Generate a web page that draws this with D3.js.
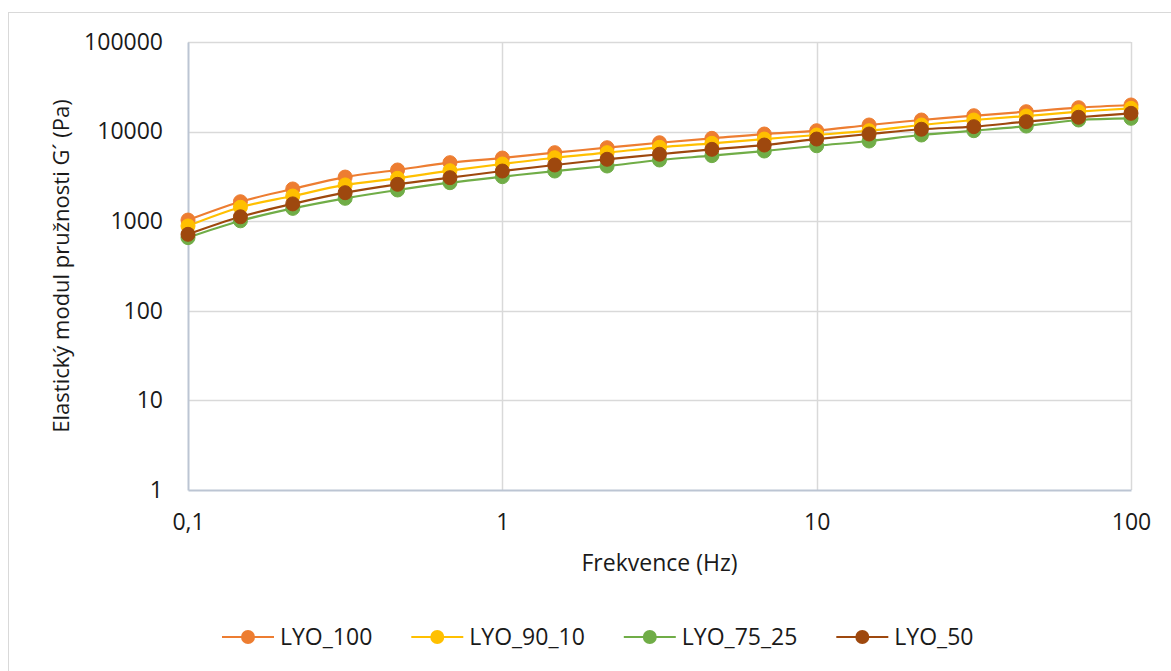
<!DOCTYPE html>
<html lang="cs">
<head>
<meta charset="utf-8">
<title>Elastický modul</title>
<script src="https://cdn.jsdelivr.net/npm/d3@7"></script>
<style>
body{ margin:0; background:#fff; }
svg{ display:block; font-family:"Open Sans", sans-serif; }
</style>
</head>
<body>
<script>
// frekvence (Hz)
var freq = [0.1, 0.1468, 0.2154, 0.3162, 0.4642, 0.6813, 1, 1.468, 2.154, 3.162, 4.642, 6.813, 10, 14.68, 21.54, 31.62, 46.42, 68.13, 100];

var seriesNames = ["LYO_100", "LYO_90_10", "LYO_75_25", "LYO_50"];
var seriesColors = ["#ED7D31", "#FFC000", "#70AD47", "#9E480E"];

// G' (Pa)
var lyo100 = [1030, 1650, 2290, 3110, 3730, 4500, 5070, 5820, 6610, 7510, 8410, 9400, 10230, 11850, 13470, 15040, 16680, 18490, 19820];
var lyo90_10 = [884, 1430, 1910, 2540, 3010, 3660, 4350, 5110, 5820, 6680, 7400, 8260, 9160, 10230, 11850, 13470, 14930, 16680, 18200];
var lyo75_25 = [655, 1010, 1390, 1800, 2230, 2690, 3140, 3630, 4130, 4820, 5390, 6070, 6950, 7850, 9160, 10230, 11530, 13470, 14070];
var lyo50 = [714, 1120, 1560, 2080, 2580, 3060, 3630, 4240, 4910, 5590, 6340, 7080, 8260, 9400, 10620, 11350, 12910, 14450, 16000];

var xTicks = [0.1, 1, 10, 100];
var xTickLabels = ["0,1", "1", "10", "100"];
var yTicks = [1, 10, 100, 1000, 10000, 100000];

var W = 1171, H = 671;
var pLeft = 188, pRight = 1131, pTop = 42, pBottom = 490;

var svg = d3.select("body").append("svg")
    .attr("width", W)
    .attr("height", H);

// chart border
svg.append("rect")
    .attr("x", 8.5).attr("y", 12.5)
    .attr("width", 1175).attr("height", 675)
    .attr("fill", "#fff")
    .attr("stroke", "#D9D9D9");

var x = d3.scaleLog().domain([0.1, 100]).range([pLeft, pRight]);
var y = d3.scaleLog().domain([1, 100000]).range([pBottom, pTop]);

// gridlines
svg.append("g").selectAll("line")
    .data(yTicks.slice(1))
    .enter().append("line")
    .attr("x1", pLeft).attr("x2", pRight)
    .attr("y1", function(d){ return Math.round(y(d)) + 0.5; })
    .attr("y2", function(d){ return Math.round(y(d)) + 0.5; })
    .attr("stroke", "#D9D9D9").attr("stroke-width", 1.5);

svg.append("g").selectAll("line")
    .data(xTicks.slice(1))
    .enter().append("line")
    .attr("y1", pTop).attr("y2", pBottom)
    .attr("x1", function(d){ return Math.round(x(d)) + 0.5; })
    .attr("x2", function(d){ return Math.round(x(d)) + 0.5; })
    .attr("stroke", "#D9D9D9").attr("stroke-width", 1.5);

// axes
var xAxis = svg.append("g")
    .attr("transform", "translate(0," + pBottom + ")")
    .call(d3.axisBottom(x).tickValues(xTicks).tickSize(0).tickPadding(24)
        .tickFormat(function(d, i){ return xTickLabels[i]; }));
var yAxis = svg.append("g")
    .attr("transform", "translate(" + pLeft + ",0)")
    .call(d3.axisLeft(y).tickValues(yTicks).tickSize(0).tickPadding(25)
        .tickFormat(d3.format("d")));

[xAxis, yAxis].forEach(function(a){
    a.select(".domain").attr("stroke", "#BCC5D3").attr("stroke-width", 2);
    a.selectAll("text")
        .attr("font-family", "Open Sans, sans-serif")
        .attr("font-size", 23)
        .attr("fill", "#1a1a1a");
});

// axis titles
svg.append("text")
    .attr("x", (pLeft + pRight) / 2)
    .attr("y", 571)
    .attr("text-anchor", "middle")
    .attr("font-size", 23)
    .attr("fill", "#1a1a1a")
    .text("Frekvence (Hz)");

svg.append("text")
    .attr("transform", "translate(69," + ((pTop + pBottom) / 2) + ") rotate(-90)")
    .attr("text-anchor", "middle")
    .attr("font-size", 22)
    .attr("fill", "#1a1a1a")
    .text("Elastický modul pružnosti G´ (Pa)");

// series
var allValues = [lyo100, lyo90_10, lyo75_25, lyo50];
var line = d3.line()
    .x(function(d, i){ return x(freq[i]); })
    .y(function(d){ return y(d); })
    .curve(d3.curveCatmullRom.alpha(0.5));

allValues.forEach(function(vals, s){
    svg.append("path")
        .datum(vals)
        .attr("d", line)
        .attr("fill", "none")
        .attr("stroke", seriesColors[s])
        .attr("stroke-width", 2.2);
});

allValues.forEach(function(vals, s){
    svg.append("g").selectAll("circle")
        .data(vals)
        .enter().append("circle")
        .attr("cx", function(d, i){ return x(freq[i]); })
        .attr("cy", function(d){ return y(d); })
        .attr("r", 7)
        .attr("fill", seriesColors[s])
        .attr("stroke", seriesColors[s])
        .attr("stroke-width", 1);
});

// legend
var legend = svg.append("g").attr("transform", "translate(222,637)");
var lx = 0;
seriesNames.forEach(function(name, s){
    var g = legend.append("g").attr("transform", "translate(" + lx + ",0)");
    g.append("line")
        .attr("x1", 0).attr("x2", 52)
        .attr("y1", 0).attr("y2", 0)
        .attr("stroke", seriesColors[s]).attr("stroke-width", 2.2);
    g.append("circle")
        .attr("cx", 26).attr("cy", 0).attr("r", 7)
        .attr("fill", seriesColors[s]);
    var t = g.append("text")
        .attr("x", 58).attr("y", 8)
        .attr("font-size", 23)
        .attr("fill", "#1a1a1a")
        .text(name);
    lx += 58 + t.node().getComputedTextLength() + 39;
});
</script>
</body>
</html>
